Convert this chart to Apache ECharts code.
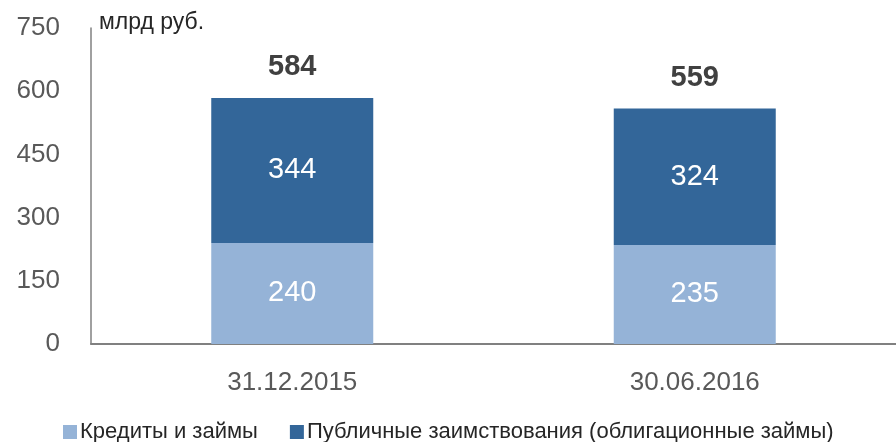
<!DOCTYPE html>
<html>
<head>
<meta charset="utf-8">
<script src="https://cdn.jsdelivr.net/npm/echarts@6/dist/echarts.min.js"></script>
<style>
html,body{margin:0;padding:0;background:#fff;}
#chart{width:896px;height:442px;}
</style>
</head>
<body>
<div id="chart"></div>
<script>
var categories = ['31.12.2015', '30.06.2016'];
var loans = [240, 235];
var bonds = [344, 324];
var totals = [584, 559];
var seriesNames = ['Кредиты и займы', 'Публичные заимствования (облигационные займы)'];

var font = '"Liberation Sans Narrow", "Liberation Sans", Arial, sans-serif';

var chart = echarts.init(document.getElementById('chart'));
chart.setOption({
    animation: false,
    textStyle: { fontFamily: font },
    grid: { left: 91, top: 28, right: 0, height: 316, containLabel: false },
    legend: {
        data: seriesNames,
        left: 58,
        top: 416,
        itemWidth: 14,
        itemHeight: 14,
        itemGap: 32,
        icon: 'rect',
        textStyle: { fontFamily: font, fontSize: 22, color: '#262626', padding: [0, 0, 0, -2] }
    },
    xAxis: {
        type: 'category',
        data: categories,
        axisLine: { lineStyle: { color: '#808080', width: 2 } },
        axisTick: { show: false },
        axisLabel: { fontFamily: font, fontSize: 26, color: '#595959', margin: 26 }
    },
    yAxis: {
        type: 'value',
        min: 0,
        max: 750,
        interval: 150,
        name: 'млрд руб.',
        nameLocation: 'end',
        nameGap: 0,
        nameTextStyle: { fontFamily: font, fontSize: 23, color: '#262626', align: 'left', verticalAlign: 'bottom', padding: [0, 0, -6, 8] },
        axisLine: { show: true, lineStyle: { color: '#808080', width: 1.5 } },
        axisTick: { show: false },
        splitLine: { show: false },
        axisLabel: { fontFamily: font, fontSize: 26, color: '#595959', margin: 31, lineHeight: 26, padding: [8, 0, 0, 0], verticalAlign: 'middle' }
    },
    series: [
        {
            name: seriesNames[0],
            type: 'bar',
            stack: 'debt',
            barWidth: 162,
            data: loans,
            itemStyle: { color: '#95B3D7' },
            label: { show: true, position: 'inside', color: '#fff', fontSize: 29, fontFamily: font }
        },
        {
            name: seriesNames[1],
            type: 'bar',
            stack: 'debt',
            barWidth: 162,
            data: bonds,
            itemStyle: { color: '#336699' },
            label: { show: true, position: 'inside', color: '#fff', fontSize: 29, fontFamily: font }
        },
        {
            name: 'total',
            type: 'bar',
            stack: 'debt',
            barWidth: 162,
            data: [0, 0],
            itemStyle: { color: 'transparent' },
            label: {
                show: true,
                position: 'top',
                distance: 16,
                color: '#404040',
                fontSize: 29,
                fontWeight: 'bold',
                fontFamily: font,
                formatter: function (p) { return totals[p.dataIndex]; }
            }
        }
    ]
});
</script>
</body>
</html>
